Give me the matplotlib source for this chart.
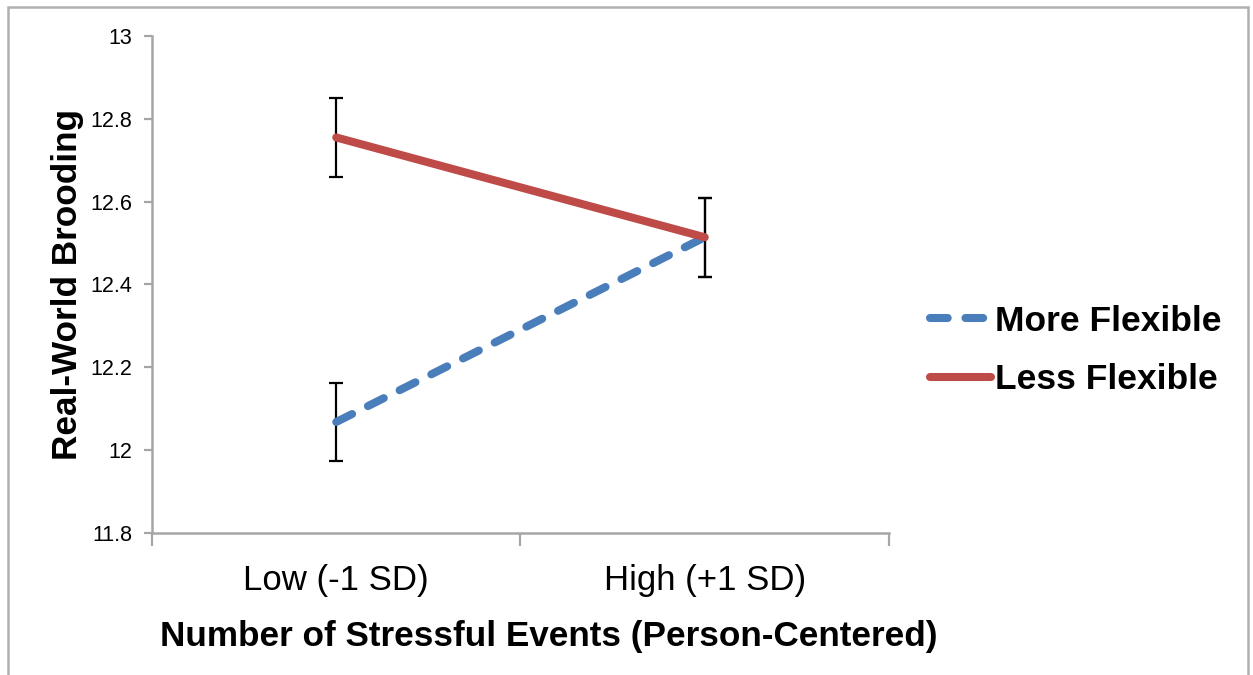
import numpy as np
import matplotlib
matplotlib.use("Agg")
import matplotlib.pyplot as plt
from matplotlib.patches import Rectangle

plt.rcParams['font.family'] = ['Liberation Sans', 'DejaVu Sans']

# data
categories = ["Low (-1 SD)", "High (+1 SD)"]
more_flexible = [12.068, 12.514]
less_flexible = [12.755, 12.514]
err_more = [0.095, 0.095]
err_less = [0.095, 0.095]

spine_col = '#a6a6a6'
blue = '#4a7ebb'
red = '#be4b48'

fig = plt.figure(figsize=(12.53, 6.75), dpi=100)
ax = fig.add_axes([0.1213, 0.2104, 0.5882, 0.7363])

x = np.array([0.5, 1.5])

# error bars underneath the lines
ax.errorbar(x, less_flexible, yerr=err_less, fmt='none', ecolor='black',
            elinewidth=1.6, capsize=4.8, capthick=1.6, zorder=2)
ax.errorbar(x, more_flexible, yerr=err_more, fmt='none', ecolor='black',
            elinewidth=1.6, capsize=4.8, capthick=1.6, zorder=2)

ax.plot(x, more_flexible, color=blue, lw=5.8, linestyle=(0, (2.2, 2.2)),
        dash_capstyle='round', solid_capstyle='round', label='More Flexible', zorder=3)
ax.plot(x, less_flexible, color=red, lw=5.8, solid_capstyle='round',
        label='Less Flexible', zorder=3)

ax.set_xlim(0, 2)
ax.set_ylim(11.8, 13)
ax.set_yticks(np.arange(11.8, 13.01, 0.2))
ax.set_yticklabels(['11.8', '12', '12.2', '12.4', '12.6', '12.8', '13'])
ax.set_xticks([0, 1, 2])
ax.set_xticklabels([])
ax.set_xticks(x, minor=True)
ax.set_xticklabels(categories, minor=True, fontsize=25)
ax.tick_params(axis='x', which='minor', length=0, pad=22)
ax.tick_params(axis='x', which='major', length=9, width=1.6, color=spine_col, direction='out')
ax.tick_params(axis='y', length=6, width=1.6, color=spine_col, labelsize=15.5, pad=8)

for s in ['top', 'right']:
    ax.spines[s].set_visible(False)
for s in ['left', 'bottom']:
    ax.spines[s].set_color(spine_col)
    ax.spines[s].set_linewidth(1.8)

ax.set_xlabel('Number of Stressful Events (Person-Centered)', fontsize=25.3,
              fontweight='bold', labelpad=17)
ax.xaxis.label.set_x(0.539)
ax.set_ylabel('Real-World Brooding', fontsize=25.3, fontweight='bold', labelpad=5)

fig.legend(loc='center left', bbox_to_anchor=(0.717, 0.481), frameon=False,
           prop={'size': 25.5, 'weight': 'bold'}, handlelength=1.72,
           handletextpad=0.1, labelspacing=0.72)

# outer frame
fig.patches.append(Rectangle((0.006, -0.01), 0.99, 1.0, transform=fig.transFigure,
                             fill=False, edgecolor='#b0b0b0', lw=1.8))

fig.savefig('out.png', dpi=100)
